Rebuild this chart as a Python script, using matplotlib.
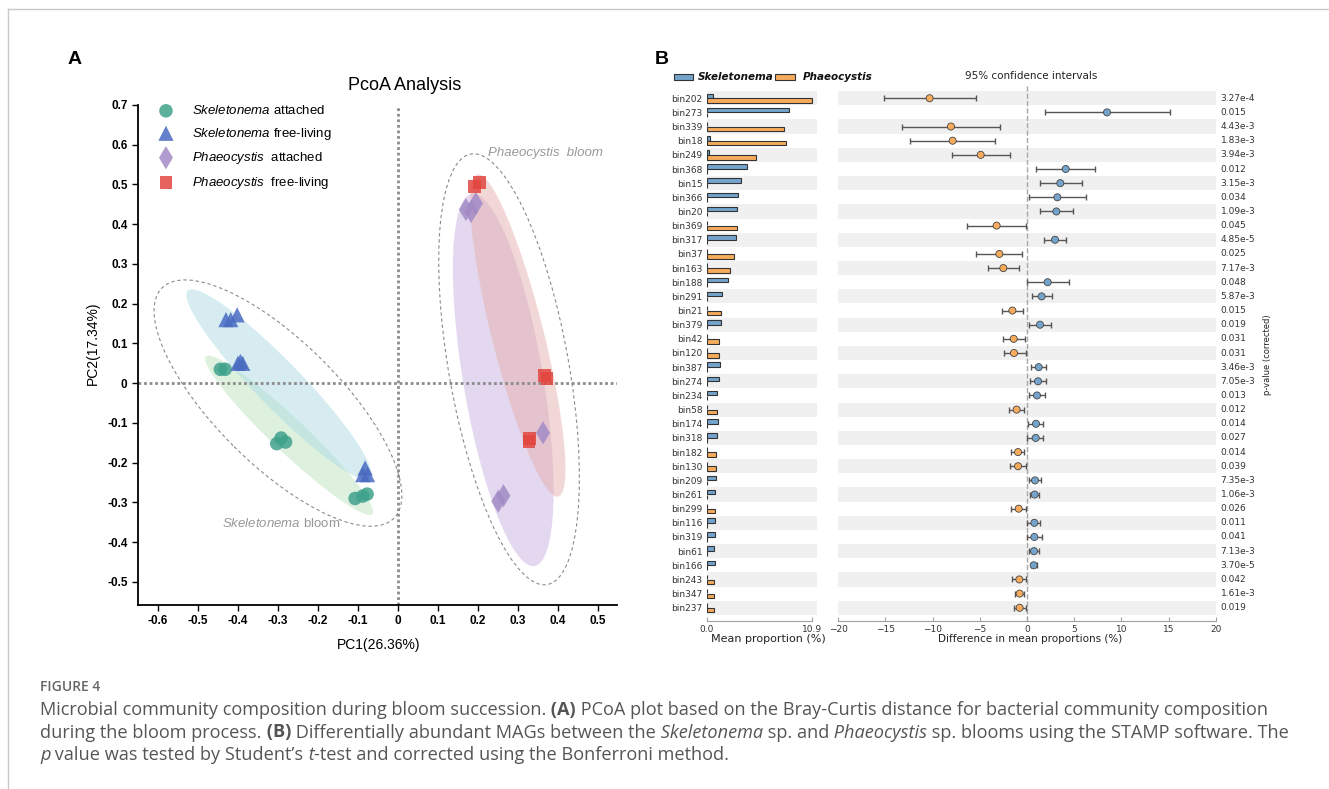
import numpy as np
import matplotlib
matplotlib.use('Agg')
import matplotlib.pyplot as plt
import matplotlib.transforms as mtransforms
from matplotlib.patches import Ellipse, Rectangle
from matplotlib.lines import Line2D
from matplotlib.text import Annotation

plt.rcParams['mathtext.fontset'] = 'custom'
plt.rcParams['mathtext.rm'] = 'Liberation Sans'
plt.rcParams['mathtext.it'] = 'Liberation Sans:italic'
plt.rcParams['mathtext.bf'] = 'Liberation Sans:bold'

# ---------------- Panel A data (PCoA) ----------------
sk_att_x = [-0.444, -0.432, -0.303, -0.292, -0.281, -0.107, -0.088, -0.077]
sk_att_y = [0.035, 0.035, -0.152, -0.138, -0.148, -0.290, -0.284, -0.279]
sk_free_x = [-0.430, -0.418, -0.402, -0.400, -0.394, -0.388, -0.088, -0.082, -0.076]
sk_free_y = [0.160, 0.160, 0.172, 0.050, 0.055, 0.050, -0.230, -0.213, -0.230]
ph_att_x = [0.170, 0.183, 0.195, 0.251, 0.264, 0.363]
ph_att_y = [0.437, 0.432, 0.452, -0.297, -0.283, -0.125]
ph_free_x = [0.191, 0.204, 0.366, 0.373, 0.328, 0.330]
ph_free_y = [0.495, 0.505, 0.020, 0.012, -0.146, -0.140]

# group ellipses: centre, major, minor, angle
grp_center = [(-0.272, -0.131), (-0.2975, -0.003), (0.2635, 0.0085), (0.30, 0.12)]
grp_major = [0.574, 0.656, 0.95, 0.835]
grp_minor = [0.085, 0.115, 0.20, 0.13]
grp_angle = [-43.6, -46.0, -80.5, -76.0]
grp_color = ['#bfe3bf', '#aedbe4', '#c9b3e0', '#e6b0b0']

bloom_center = [(-0.30, -0.05), (0.278, 0.035)]
bloom_major = [0.82, 1.10]
bloom_minor = [0.31, 0.30]
bloom_angle = [-45.0, -80.0]

xt = [-0.6, -0.5, -0.4, -0.3, -0.2, -0.1, 0, 0.1, 0.2, 0.3, 0.4, 0.5]
xt_lab = ['-0.6', '-0.5', '-0.4', '-0.3', '-0.2', '-0.1', '0', '0.1', '0.2', '0.3', '0.4', '0.5']
yt = [-0.5, -0.4, -0.3, -0.2, -0.1, 0, 0.1, 0.2, 0.3, 0.4, 0.5, 0.6, 0.7]
yt_lab = ['-0.5', '-0.4', '-0.3', '-0.2', '-0.1', '0', '0.1', '0.2', '0.3', '0.4', '0.5', '0.6', '0.7']

# ---------------- Panel B data (STAMP) ----------------
bins = ['bin202', 'bin273', 'bin339', 'bin18', 'bin249', 'bin368', 'bin15', 'bin366', 'bin20',
        'bin369', 'bin317', 'bin37', 'bin163', 'bin188', 'bin291', 'bin21', 'bin379', 'bin42',
        'bin120', 'bin387', 'bin274', 'bin234', 'bin58', 'bin174', 'bin318', 'bin182', 'bin130',
        'bin209', 'bin261', 'bin299', 'bin116', 'bin319', 'bin61', 'bin166', 'bin243', 'bin347',
        'bin237']
skel = [0.69, 8.58, 0.05, 0.38, 0.28, 4.15, 3.60, 3.29, 3.18, 0.04, 3.04, 0.03, 0.05, 2.25,
        1.63, 0.04, 1.45, 0.03, 0.04, 1.38, 1.25, 1.11, 0.04, 1.21, 1.04, 0.03, 0.04, 0.93,
        0.90, 0.03, 0.87, 0.83, 0.80, 0.83, 0.03, 0.03, 0.03]
phaeo = [10.9, 0.05, 8.03, 8.20, 5.12, 0.04, 0.05, 0.06, 0.05, 3.18, 0.05, 2.84, 2.46, 0.05,
         0.06, 1.45, 0.05, 1.31, 1.25, 0.05, 0.05, 0.04, 1.07, 0.05, 0.06, 0.93, 0.93, 0.05,
         0.04, 0.87, 0.05, 0.04, 0.05, 0.04, 0.76, 0.76, 0.76]
diff = [-10.32, 8.48, -8.06, -7.88, -4.91, 4.10, 3.53, 3.22, 3.11, -3.22, 2.97, -2.93, -2.51,
        2.19, 1.55, -1.55, 1.38, -1.41, -1.38, 1.24, 1.17, 1.06, -1.10, 0.95, 0.92, -0.95,
        -0.95, 0.85, 0.81, -0.88, 0.78, 0.78, 0.74, 0.71, -0.81, -0.78, -0.78]
ci_lo = [-15.16, 1.87, -13.2, -12.37, -7.95, 0.99, 1.34, 0.21, 1.41, -6.33, 1.80, -5.37, -4.17,
         0.04, 0.49, -2.69, 0.21, -2.54, -2.47, 0.42, 0.32, 0.21, -1.87, 0.07, 0.02, -1.66,
         -1.84, 0.25, 0.35, -1.66, 0.04, 0.01, 0.25, 0.42, -1.55, -1.24, -1.34]
ci_hi = [-5.44, 15.12, -2.90, -3.39, -1.84, 7.21, 5.80, 6.22, 4.84, -0.07, 4.13, -0.49, -0.85,
         4.45, 2.61, -0.42, 2.51, -0.21, -0.11, 2.05, 2.01, 1.94, -0.35, 1.70, 1.73, -0.28,
         -0.07, 1.48, 1.31, -0.07, 1.41, 1.55, 1.31, 1.06, -0.07, -0.35, -0.07]
pvals = ['3.27e-4', '0.015', '4.43e-3', '1.83e-3', '3.94e-3', '0.012', '3.15e-3', '0.034',
         '1.09e-3', '0.045', '4.85e-5', '0.025', '7.17e-3', '0.048', '5.87e-3', '0.015', '0.019',
         '0.031', '0.031', '3.46e-3', '7.05e-3', '0.013', '0.012', '0.014', '0.027', '0.014',
         '0.039', '7.35e-3', '1.06e-3', '0.026', '0.011', '0.041', '7.13e-3', '3.70e-5',
         '0.042', '1.61e-3', '0.019']
ci_ticks = [-20, -15, -10, -5, 0, 5, 10, 15, 20]

BLUE = '#74a4cc'
ORANGE = '#f7ab5c'

W, H = 1329, 789
fig = plt.figure(figsize=(W / 100, H / 100), dpi=100)


def fx(px):
    return px / W


def fy(py):
    return 1 - py / H


# ---------------- Panel A ----------------
axA = fig.add_axes([fx(138), fy(605), (617 - 138) / W, (605 - 105) / H])
for c, w, h, a, col in zip(grp_center, grp_major, grp_minor, grp_angle, grp_color):
    axA.add_patch(Ellipse(c, w, h, angle=a, facecolor=col, alpha=0.5, edgecolor='none', zorder=1))
for c, w, h, a in zip(bloom_center, bloom_major, bloom_minor, bloom_angle):
    axA.add_patch(Ellipse(c, w, h, angle=a, facecolor='none', edgecolor='#8a8a8a',
                          linestyle=(0, (3, 2.5)), lw=0.8, zorder=2))
axA.axhline(0, color='#8c8c8c', linestyle=(0, (1, 1)), lw=2, zorder=1.5)
axA.axvline(0, color='#8c8c8c', linestyle=(0, (1, 1)), lw=2, zorder=1.5)

axA.scatter(sk_att_x, sk_att_y, s=95, marker='o', color='#3fa28b', alpha=0.85,
            edgecolors='none', zorder=3, label=r'$\it{Skeletonema}$ attached')
axA.scatter(sk_free_x, sk_free_y, s=120, marker='^', color='#4a6bc2', alpha=0.85,
            edgecolors='none', zorder=3, label=r'$\it{Skeletonema}$ free-living')
axA.scatter(ph_att_x, ph_att_y, s=140, marker='d', color='#a28bc6', alpha=0.85,
            edgecolors='none', zorder=3, label=r'$\it{Phaeocystis}$  attached')
axA.scatter(ph_free_x, ph_free_y, s=85, marker='s', color='#e2463f', alpha=0.85,
            edgecolors='none', zorder=3, label=r'$\it{Phaeocystis}$  free-living')

axA.legend(loc='upper left', bbox_to_anchor=((147.5 - 138) / 479, 1.012), frameon=False,
           borderaxespad=0, handletextpad=1.0, labelspacing=0.64, scatterpoints=1,
           prop={'family': 'Liberation Sans', 'size': 9.5})

axA.text(0.225, 0.578, 'Phaeocystis  bloom', color='#999999', fontsize=9.5, style='italic',
         family='Liberation Sans', va='center', ha='left')
axA.text(-0.44, -0.354, r'$\it{Skeletonema}$ bloom', color='#999999', fontsize=9.5,
         family='Liberation Sans', va='center', ha='left')

axA.set_xlim(-0.65, 0.548)
axA.set_ylim(-0.558, 0.70)
axA.set_xticks(xt)
axA.set_xticklabels(xt_lab)
axA.set_yticks(yt)
axA.set_yticklabels(yt_lab)
for lab in axA.get_xticklabels() + axA.get_yticklabels():
    lab.set_fontweight('bold')
    lab.set_fontsize(8.5)
    lab.set_family('Liberation Sans')
axA.tick_params(direction='out', length=4, width=1)
for s in ['top', 'right']:
    axA.spines[s].set_visible(False)
for s in ['left', 'bottom']:
    axA.spines[s].set_linewidth(1.3)
axA.set_xlabel('PC1(26.36%)', fontsize=10, family='Liberation Sans')
axA.set_ylabel('PC2(17.34%)', fontsize=10, family='Liberation Sans')
axA.xaxis.set_label_coords(0.503, -0.066)
axA.yaxis.set_label_coords(-0.079, 0.524)
axA.set_title('PcoA Analysis', fontsize=13, family='Liberation Sans', x=0.557, pad=11)

fig.text(fx(75), fy(60), 'A', fontsize=14, weight='bold', family='Liberation Sans',
         ha='center', va='center')
fig.text(fx(662), fy(60), 'B', fontsize=14, weight='bold', family='Liberation Sans',
         ha='center', va='center')

# ---------------- Panel B ----------------
rows = np.arange(len(bins))
axBar = fig.add_axes([fx(706.7), fy(620.5), 110 / W, 535 / H])
axCI = fig.add_axes([fx(838.3), fy(620.5), 377.4 / W, 535 / H])

for ax in (axBar, axCI):
    for i in rows[::2]:
        ax.axhspan(i - 0.5, i + 0.5, color='#f0f0f0', lw=0, zorder=0)
    ax.set_ylim(len(bins) - 0.1, -0.9)
    for s in ['top', 'right', 'left']:
        ax.spines[s].set_visible(False)
    ax.spines['bottom'].set_color('#a0a0a0')
    ax.spines['bottom'].set_linewidth(0.8)
    ax.tick_params(axis='x', direction='in', length=3, color='#a0a0a0', labelsize=6.5,
                   labelcolor='#333333', pad=3)

axBar.barh(rows - 0.17, skel, height=0.32, color=BLUE, edgecolor='#333333', lw=0.8, zorder=2)
axBar.barh(rows + 0.17, phaeo, height=0.32, color=ORANGE, edgecolor='#333333', lw=0.8, zorder=2)
axBar.set_xlim(0, 11.42)
axBar.set_xticks([0, 10.9])
axBar.set_xticklabels(['0.0', '10.9'])
axBar.spines['bottom'].set_bounds(0, 10.9)
axBar.set_yticks(rows)
axBar.set_yticklabels(bins)
axBar.tick_params(axis='y', length=0, pad=3, labelsize=6.5, labelcolor='#333333')
axBar.set_xlabel('Mean proportion (%)', fontsize=8, color='#222222')
axBar.xaxis.set_label_coords(0.557, -0.026)

xerr = [np.array(diff) - np.array(ci_lo), np.array(ci_hi) - np.array(diff)]
axCI.axvline(0, color='#a8a8a8', linestyle='--', lw=1, zorder=1)
axCI.errorbar(diff, rows, xerr=xerr, fmt='none', ecolor='#5a5454', elinewidth=1,
              capsize=2.5, capthick=1, zorder=2)
dot_cols = [BLUE if d > 0 else ORANGE for d in diff]
axCI.scatter(diff, rows, s=26, c=dot_cols, edgecolors='#444444', linewidths=0.6, zorder=3)
axCI.set_xlim(-20, 20)
axCI.set_xticks(ci_ticks)
axCI.set_xticklabels([str(t).replace('-', '\u2212') for t in ci_ticks])
axCI.set_yticks([])
axCI.set_xlabel('Difference in mean proportions (%)', fontsize=7.5, color='#222222')
axCI.xaxis.set_label_coords(0.509, -0.026)

trans = mtransforms.blended_transform_factory(axCI.transAxes, axCI.transData)
for i, p in zip(rows, pvals):
    axCI.text(1.013, i, p, transform=trans, ha='left', va='center', fontsize=6.5,
              color='#333333')
fig.text(fx(1268), fy(355), 'p-value (corrected)', rotation=90, ha='center', va='center',
         fontsize=6, color='#222222')

fig.text(fx(1031), fy(75.7), '95% confidence intervals', ha='center', va='center',
         fontsize=7.5, color='#222222')
fig.add_artist(Rectangle((fx(674), fy(79.5)), (693 - 674) / W, 5.5 / H, transform=fig.transFigure,
                         facecolor=BLUE, edgecolor='#333333', lw=0.8))
fig.text(fx(698), fy(76.7), 'Skeletonema', ha='left', va='center', fontsize=7.5,
         weight='bold', style='italic', color='#111111')
fig.add_artist(Rectangle((fx(775), fy(79.5)), (795 - 775) / W, 5.5 / H, transform=fig.transFigure,
                         facecolor=ORANGE, edgecolor='#333333', lw=0.8))
fig.text(fx(803), fy(76.7), 'Phaeocystis', ha='left', va='center', fontsize=7.5,
         weight='bold', style='italic', color='#111111')

# ---------------- frame and caption ----------------
fig.add_artist(Line2D([fx(8), 1], [fy(9), fy(9)], transform=fig.transFigure, color='#c8c8c8', lw=1))
fig.add_artist(Line2D([fx(8), fx(8)], [fy(9), 0], transform=fig.transFigure, color='#c8c8c8', lw=1))

CAP = dict(fontsize=13.05, color='#555555', family='Open Sans')


def caption_line(x, y, parts):
    prev = None
    for s, st in parts:
        kw = dict(CAP)
        if st == 'b':
            kw['weight'] = 'bold'
        if st == 'i':
            kw['style'] = 'italic'
        if prev is None:
            prev = fig.text(x, y, s, ha='left', va='baseline', **kw)
        else:
            a = Annotation(s, xy=(1, 0), xycoords=prev, ha='left', va='bottom', **kw)
            fig.add_artist(a)
            prev = a


fig.text(fx(40), fy(691), 'FIGURE 4', fontsize=10, color='#666666', family='Open Sans',
         weight='semibold', ha='left', va='baseline')
caption_line(fx(40), fy(715), [
    ('Microbial community composition during bloom succession.', 'n'), (' (A)', 'b'),
    (' PCoA plot based on the Bray-Curtis distance for bacterial community composition', 'n')])
caption_line(fx(40), fy(737.5), [
    ('during the bloom process.', 'n'), (' (B)', 'b'),
    (' Differentially abundant MAGs between the', 'n'), (' Skeletonema', 'i'),
    (' sp. and', 'n'), (' Phaeocystis', 'i'),
    (' sp. blooms using the STAMP software. The', 'n')])
caption_line(fx(40), fy(760), [
    ('p', 'i'), (' value was tested by Student\u2019s', 'n'), (' t', 'i'),
    ('-test and corrected using the Bonferroni method.', 'n')])

fig.savefig('out.png', dpi=100)
